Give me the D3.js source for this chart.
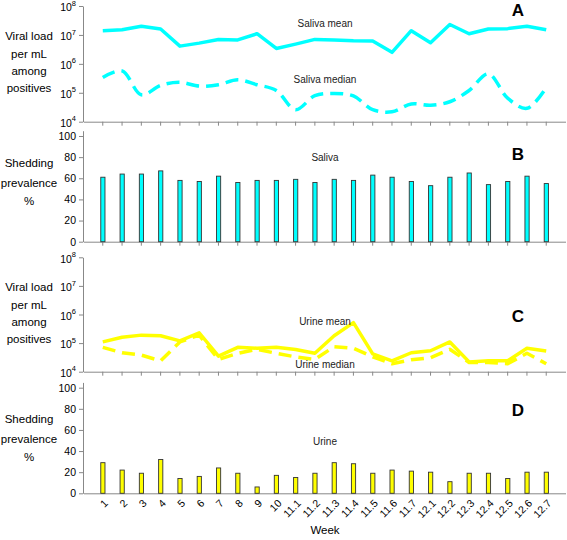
<!DOCTYPE html>
<html>
<head>
<meta charset="utf-8">
<script src="https://cdn.jsdelivr.net/npm/d3@7"></script>
<style>
  body { margin: 0; background: #fff; }
  svg { font-family: "Liberation Sans", Arial, sans-serif; }
</style>
</head>
<body>
<svg width="567" height="540"></svg>
<script>
// data
const weeks = ["1","2","3","4","5","6","7","8","9","10","11.1","11.2","11.3","11.4","11.5","11.6","11.7","12.1","12.2","12.3","12.4","12.5","12.6","12.7"];

const salivaMean = [1.4e7,1.5e7,2.0e7,1.6e7,4.1e6,5.2e6,6.9e6,6.7e6,1.1e7,3.4e6,4.8e6,7.0e6,6.7e6,6.3e6,6.2e6,2.5e6,1.4e7,5.4e6,2.3e7,1.1e7,1.6e7,1.65e7,2.0e7,1.5e7];
const salivaMedian = [3.4e5,5.7e5,8.5e4,1.8e5,2.3e5,1.7e5,1.9e5,2.8e5,1.9e5,1.2e5,2.6e4,7.9e4,9.5e4,7.8e4,2.6e4,2.2e4,4.1e4,3.7e4,4.9e4,1.2e5,4.5e5,6.5e4,2.9e4,1.5e5];
const salivaPrev = [61,64,64,67,58,57,62,56,58,58,59,56,59,58,63,61,57,53,61,65,54,57,62,55];

const urineMean = [1.1e5,1.6e5,1.9e5,1.8e5,1.2e5,2.3e5,3.5e4,7.1e4,6.6e4,7.1e4,6.0e4,4.4e4,1.8e5,5.2e5,4.2e4,2.4e4,4.6e4,5.4e4,1.1e5,2.2e4,2.4e4,2.4e4,6.6e4,5.3e4];
const urineMedian = [7.1e4,4.6e4,3.8e4,2.4e4,1.1e5,1.9e5,2.7e4,4.4e4,6.1e4,4.4e4,3.3e4,2.7e4,7.5e4,6.6e4,3.3e4,1.9e4,2.6e4,3.1e4,6.1e4,2.1e4,2.1e4,1.9e4,4.4e4,1.9e4];
const urinePrev = [29,22,19,32,14,16,24,19,6,17,15,19,29,28,19,22,21,20,11,19,19,14,20,20];

const logTicks = [1e4,1e5,1e6,1e7,1e8];
const pctTicks = [0,20,40,60,80,100];

const svg = d3.select("svg");
const axisColor = "#888";
const cyan = "#00ffff";
const yellow = "#ffff00";

const x = d3.scaleBand().domain(weeks).range([83.5, 565.5]).paddingInner(0).paddingOuter(0.5);
const cx = d => x(d) + x.bandwidth() / 2;

const styleAxis = g => {
  g.select(".domain").attr("stroke", axisColor);
  g.selectAll(".tick line").attr("stroke", axisColor);
  g.selectAll(".tick text").attr("fill", "#000").attr("font-size", 10.5);
};

function xAxis(y0, withTicks) {
  const g = svg.append("g").attr("transform", `translate(0,${y0})`)
    .call(d3.axisBottom(x).tickSize(withTicks ? 4 : 0).tickSizeOuter(0).tickFormat(""));
  styleAxis(g);
  return g;
}

function logPanel(top, bottom) {
  const y = d3.scaleLog().domain([1e4, 1e8]).range([bottom, top]);
  const g = svg.append("g").attr("transform", "translate(83,0)")
    .call(d3.axisLeft(y).tickValues(logTicks).tickSize(4).tickSizeOuter(0).tickFormat(""));
  styleAxis(g);
  g.selectAll(".tick text").each(function(d) {
    const t = d3.select(this).attr("x", -7).attr("dy", "0.45em").attr("text-anchor", "end");
    t.append("tspan").text("10");
    t.append("tspan").attr("font-size", 7.5).attr("dy", "-0.75em").text(Math.round(Math.log10(d)));
  });
  xAxis(bottom, true);
  return y;
}

function pctPanel(zeroY, hundredY) {
  const per = (zeroY - hundredY) / 100;
  const y = d3.scaleLinear().domain([0, 105]).range([zeroY, zeroY - 105 * per]);
  const g = svg.append("g").attr("transform", "translate(83,0)")
    .call(d3.axisLeft(y).tickValues(pctTicks).tickSize(4).tickSizeOuter(0));
  styleAxis(g);
  g.selectAll(".tick text").attr("x", -7);
  return y;
}

function yTitle(lines, ys) {
  lines.forEach((s, i) => {
    svg.append("text").attr("x", 29).attr("y", ys[i]).attr("text-anchor", "middle")
      .attr("dominant-baseline", "middle").attr("font-size", 11.5).text(s);
  });
}

function note(s, px, py) {
  svg.append("text").attr("x", px).attr("y", py).attr("text-anchor", "middle")
    .attr("dominant-baseline", "middle").attr("font-size", 10).attr("fill", "#222").text(s);
}

function letter(s, py) {
  svg.append("text").attr("x", 518).attr("y", py).attr("text-anchor", "middle")
    .attr("dominant-baseline", "middle").attr("font-size", 17).attr("font-weight", "bold").text(s);
}

function drawLine(vals, y, color, dashed, curve) {
  const line = d3.line().x((d, i) => cx(weeks[i])).y(d => y(d)).curve(curve || d3.curveLinear);
  svg.append("path").datum(vals).attr("fill", "none").attr("stroke", color)
    .attr("stroke-width", 3.5).attr("stroke-linejoin", "round")
    .attr("stroke-dasharray", dashed ? "13,7" : null).attr("d", line);
}

function drawBars(vals, y, color) {
  svg.append("g").selectAll("rect").data(vals).join("rect")
    .attr("x", (d, i) => cx(weeks[i]) - 2)
    .attr("y", d => y(d))
    .attr("width", 4.2)
    .attr("height", d => y(0) - y(d))
    .attr("fill", color).attr("stroke", "#333").attr("stroke-width", 0.9);
}

// Panel A
const yA = logPanel(6, 121.7);
drawLine(salivaMedian, yA, cyan, true, d3.curveCatmullRom);
drawLine(salivaMean, yA, cyan, false);
yTitle(["Viral load", "per mL", "among", "positives"], [37, 55, 72, 89]);
note("Saliva mean", 325, 24);
note("Saliva median", 325, 80);
letter("A", 12);

// Panel B
const yB = pctPanel(241.7, 136);
xAxis(241.7, true);
drawBars(salivaPrev, yB, cyan);
yTitle(["Shedding", "prevalence", "%"], [164, 184, 202]);
note("Saliva", 325, 158);
letter("B", 156);

// Panel C
const yC = logPanel(257.3, 371.7);
drawLine(urineMedian, yC, yellow, true);
drawLine(urineMean, yC, yellow, false);
yTitle(["Viral load", "per mL", "among", "positives"], [288, 306, 323, 340]);
note("Urine mean", 325, 322);
note("Urine median", 325, 365);
letter("C", 318);

// Panel D
const yD = pctPanel(493.3, 387.7);
xAxis(493.3, false);
drawBars(urinePrev, yD, yellow);
weeks.forEach(w => {
  svg.append("text").attr("transform", `translate(${cx(w) + 4},${502}) rotate(-45)`)
    .attr("text-anchor", "end").attr("dominant-baseline", "middle")
    .attr("font-size", 10.5).text(w);
});
yTitle(["Shedding", "prevalence", "%"], [420, 440, 458]);
note("Urine", 325, 442);
letter("D", 412);

svg.append("text").attr("x", 325).attr("y", 531).attr("text-anchor", "middle")
  .attr("dominant-baseline", "middle").attr("font-size", 11.5).text("Week");
</script>
</body>
</html>
